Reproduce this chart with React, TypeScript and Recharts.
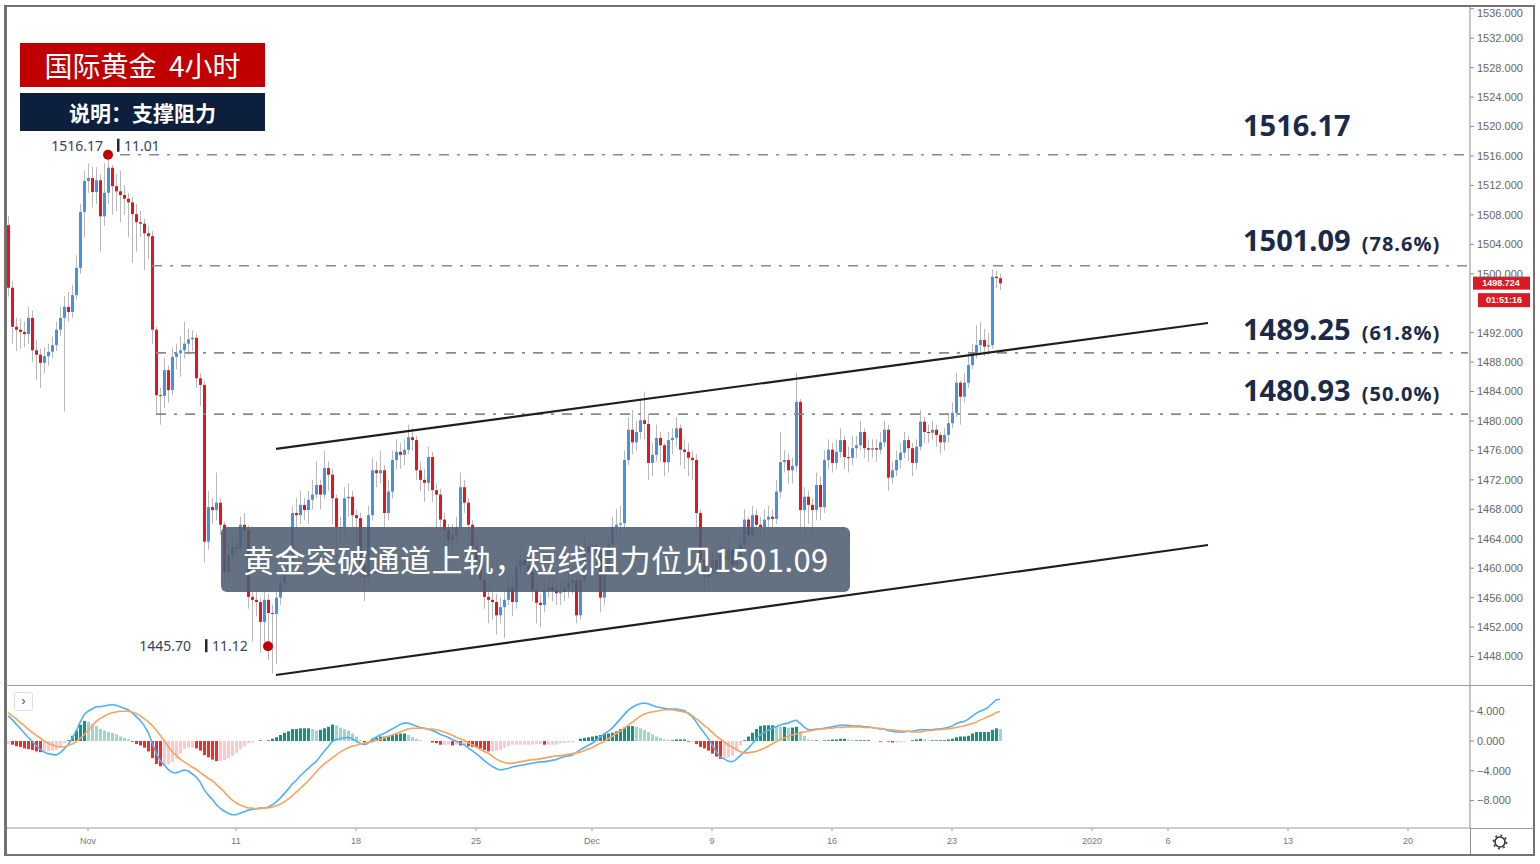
import React from 'react';
import { ComposedChart, Bar, Line, XAxis, YAxis, ReferenceLine, ReferenceDot, Cell } from 'recharts';

// ---- price data (4h gold candles, one per slot) ----
const firstOpen = 1506.6;

const closes = [
  1498.1, 1492.8, 1492.4, 1492.1, 1491.8, 1494.0, 1489.6, 1489.0, 1487.9, 1488.8,
  1489.4, 1490.3, 1492.4, 1494.0, 1495.5, 1494.8, 1497.1, 1500.8, 1508.4, 1512.6,
  1513.0, 1511.1, 1512.7, 1507.8, 1511.0, 1514.4, 1511.9, 1511.2, 1510.7, 1510.2,
  1509.7, 1508.1, 1507.0, 1506.8, 1505.5, 1505.1, 1492.4, 1483.5, 1483.4, 1486.9,
  1484.2, 1488.7, 1489.2, 1489.6, 1490.5, 1491.1, 1491.3, 1485.8, 1484.9, 1463.6,
  1468.3, 1467.9, 1468.9, 1465.9, 1459.5, 1461.8, 1462.9, 1462.7, 1465.9, 1465.2,
  1456.1, 1455.7, 1455.4, 1452.7, 1455.7, 1453.9, 1453.8, 1456.0, 1458.0, 1459.8,
  1461.1, 1467.5, 1467.2, 1468.6, 1467.9, 1469.3, 1470.0, 1471.3, 1470.0, 1473.6,
  1472.7, 1469.5, 1465.6, 1465.5, 1469.5, 1469.7, 1467.2, 1466.8, 1460.4, 1458.8,
  1467.2, 1473.3, 1472.9, 1473.3, 1467.5, 1470.4, 1474.7, 1475.8, 1475.4, 1476.1,
  1477.8, 1477.4, 1473.3, 1472.0, 1471.6, 1475.1, 1470.6, 1470.0, 1466.6, 1465.2,
  1463.8, 1464.5, 1465.6, 1471.0, 1468.9, 1465.9, 1462.9, 1461.1, 1458.4, 1456.1,
  1455.7, 1455.4, 1453.6, 1454.7, 1455.7, 1457.4, 1455.4, 1460.2, 1461.1, 1460.4,
  1459.5, 1457.0, 1455.3, 1455.0, 1457.0, 1457.4, 1457.0, 1456.6, 1456.8, 1457.3,
  1458.0, 1458.4, 1453.6, 1458.4, 1462.9, 1462.1, 1461.8, 1462.5, 1456.0, 1459.8,
  1463.2, 1465.6, 1465.9, 1466.1, 1474.7, 1478.8, 1477.1, 1478.5, 1480.1, 1479.6,
  1474.3, 1475.4, 1477.7, 1476.7, 1474.4, 1477.4, 1477.7, 1479.0, 1476.1, 1475.8,
  1475.0, 1474.7, 1467.5, 1461.1, 1458.8, 1459.5, 1461.1, 1459.8, 1461.8, 1461.1,
  1462.5, 1460.4, 1461.1, 1463.2, 1466.6, 1464.5, 1467.2, 1465.9, 1465.6, 1466.6,
  1467.0, 1466.7, 1470.4, 1474.4, 1474.7, 1473.3, 1473.9, 1482.6, 1467.9, 1469.7,
  1468.6, 1467.9, 1471.3, 1468.3, 1474.7, 1476.1, 1474.3, 1475.8, 1477.4, 1475.1,
  1475.0, 1476.3, 1476.7, 1478.5, 1476.3, 1476.1, 1476.3, 1476.1, 1477.1, 1478.8,
  1472.3, 1473.3, 1474.7, 1475.7, 1477.4, 1476.3, 1474.3, 1476.5, 1479.9, 1478.5,
  1478.4, 1478.8, 1478.1, 1477.1, 1478.1, 1479.7, 1481.1, 1485.2, 1483.3, 1485.2,
  1487.6, 1489.2, 1490.3, 1491.0, 1490.1, 1490.3, 1499.6, 1499.4, 1498.7,
];

const highs = [
  1507.8, 1499.0, 1494.0, 1493.8, 1493.5, 1495.5, 1495.0, 1491.0, 1489.8, 1490.0,
  1490.5, 1491.5, 1493.5, 1495.5, 1497.0, 1497.5, 1498.5, 1502.5, 1509.5, 1514.0,
  1515.0, 1514.5, 1514.5, 1513.5, 1515.0, 1516.17, 1514.8, 1513.5, 1514.0, 1512.0,
  1511.0, 1510.5, 1509.5, 1508.5, 1507.5, 1506.5, 1505.8, 1492.8, 1484.5, 1488.5,
  1487.5, 1490.0, 1490.5, 1491.5, 1493.5, 1492.5, 1492.3, 1491.8, 1486.5, 1485.5,
  1470.5, 1469.5, 1473.0, 1469.5, 1466.3, 1463.5, 1464.5, 1463.8, 1467.0, 1467.5,
  1465.8, 1457.0, 1456.8, 1456.0, 1456.8, 1456.5, 1455.0, 1457.0, 1459.0, 1461.0,
  1462.5, 1468.5, 1469.5, 1470.5, 1469.5, 1470.5, 1472.0, 1474.5, 1472.0, 1476.0,
  1474.5, 1473.5, 1470.0, 1467.0, 1471.0, 1471.5, 1470.5, 1468.0, 1467.5, 1461.0,
  1468.5, 1475.0, 1474.5, 1476.0, 1474.0, 1472.0, 1476.0, 1477.5, 1477.0, 1477.5,
  1479.5, 1479.0, 1478.0, 1474.5, 1473.5, 1476.5, 1475.8, 1471.5, 1470.8, 1467.5,
  1466.0, 1466.0, 1467.0, 1473.0, 1472.0, 1469.5, 1466.5, 1464.0, 1462.0, 1459.5,
  1457.5, 1457.0, 1456.5, 1456.0, 1457.0, 1459.0, 1458.5, 1461.5, 1463.0, 1462.5,
  1461.5, 1460.0, 1458.0, 1456.5, 1458.5, 1459.0, 1458.5, 1458.0, 1458.0, 1458.5,
  1459.5, 1460.0, 1459.0, 1459.5, 1464.5, 1463.5, 1463.5, 1464.0, 1463.0, 1461.0,
  1464.5, 1467.0, 1468.0, 1468.5, 1476.0, 1480.5, 1481.5, 1480.0, 1483.0, 1484.0,
  1481.0, 1477.0, 1479.5, 1478.5, 1477.0, 1478.5, 1479.0, 1480.5, 1479.5, 1477.5,
  1477.0, 1476.0, 1475.5, 1468.0, 1462.0, 1461.0, 1462.5, 1462.0, 1463.0, 1462.5,
  1464.0, 1463.0, 1462.5, 1464.5, 1468.0, 1467.0, 1468.5, 1468.0, 1467.0, 1468.0,
  1468.5, 1468.0, 1472.0, 1478.5, 1476.0, 1475.5, 1475.0, 1486.5, 1483.0, 1471.0,
  1470.5, 1469.5, 1473.0, 1472.5, 1476.0, 1477.5, 1477.0, 1477.5, 1479.0, 1478.0,
  1476.5, 1478.0, 1478.0, 1480.0, 1479.0, 1477.5, 1477.5, 1477.5, 1478.5, 1480.0,
  1479.5, 1474.5, 1476.0, 1477.0, 1478.5, 1478.0, 1477.0, 1477.5, 1481.5, 1480.5,
  1479.5, 1480.0, 1479.5, 1478.5, 1479.0, 1481.0, 1482.5, 1486.5, 1485.5, 1486.5,
  1488.8, 1490.5, 1493.0, 1493.5, 1492.5, 1492.0, 1500.6, 1500.4, 1500.0,
];

const lows = [
  1496.9, 1490.5, 1489.5, 1489.8, 1490.0, 1490.5, 1488.0, 1485.5, 1484.5, 1486.5,
  1487.5, 1488.5, 1489.5, 1491.5, 1481.3, 1493.5, 1494.0, 1496.5, 1500.0, 1505.0,
  1511.0, 1509.0, 1509.5, 1503.0, 1506.5, 1509.5, 1508.0, 1508.5, 1507.0, 1508.0,
  1505.0, 1501.5, 1503.0, 1505.0, 1500.5, 1502.0, 1490.5, 1481.0, 1479.5, 1481.8,
  1482.5, 1483.5, 1487.0, 1486.0, 1488.5, 1489.0, 1489.5, 1484.5, 1482.0, 1460.8,
  1462.5, 1466.0, 1466.5, 1464.5, 1458.0, 1458.5, 1460.5, 1460.8, 1462.0, 1463.5,
  1454.5, 1450.0, 1453.5, 1448.5, 1450.0, 1447.5, 1445.7, 1447.0, 1455.0, 1457.0,
  1458.5, 1460.0, 1465.5, 1466.0, 1466.5, 1466.0, 1468.0, 1469.5, 1468.0, 1469.5,
  1470.5, 1466.0, 1461.0, 1463.5, 1464.5, 1467.0, 1465.5, 1463.0, 1458.5, 1455.5,
  1458.0, 1466.5, 1471.0, 1471.5, 1465.0, 1466.5, 1469.5, 1473.5, 1473.5, 1474.0,
  1475.5, 1476.0, 1472.0, 1470.5, 1469.0, 1470.5, 1469.0, 1465.0, 1465.0, 1463.5,
  1461.5, 1462.5, 1463.5, 1465.0, 1467.5, 1464.5, 1461.5, 1459.5, 1457.0, 1454.5,
  1452.5, 1453.0, 1451.0, 1452.5, 1450.5, 1455.0, 1453.5, 1454.5, 1459.0, 1459.0,
  1458.0, 1455.5, 1452.5, 1452.0, 1454.0, 1456.0, 1455.5, 1455.0, 1455.0, 1455.5,
  1456.0, 1456.5, 1452.5, 1453.0, 1457.5, 1460.0, 1460.5, 1460.5, 1454.0, 1455.0,
  1459.0, 1462.5, 1464.5, 1464.5, 1465.5, 1474.0, 1475.5, 1476.0, 1477.5, 1477.5,
  1472.0, 1472.5, 1474.5, 1474.5, 1472.5, 1473.0, 1475.5, 1476.5, 1474.0, 1473.5,
  1472.5, 1472.0, 1465.0, 1459.0, 1457.0, 1457.5, 1458.5, 1458.5, 1459.0, 1459.5,
  1460.0, 1459.0, 1459.5, 1460.5, 1462.5, 1463.0, 1464.0, 1464.5, 1464.0, 1464.5,
  1465.5, 1465.0, 1466.0, 1469.5, 1473.0, 1471.5, 1471.5, 1473.0, 1465.0, 1464.5,
  1466.0, 1464.0, 1466.5, 1466.5, 1467.5, 1473.5, 1473.0, 1473.5, 1475.0, 1473.5,
  1473.0, 1474.0, 1475.0, 1476.0, 1475.0, 1474.5, 1475.0, 1474.5, 1475.5, 1476.5,
  1470.5, 1471.5, 1472.5, 1473.5, 1475.0, 1474.5, 1472.5, 1473.5, 1476.0, 1477.0,
  1477.0, 1477.5, 1476.5, 1475.5, 1476.0, 1477.0, 1479.0, 1480.5, 1479.5, 1482.5,
  1484.5, 1487.0, 1488.5, 1489.0, 1488.8, 1489.0, 1489.8, 1498.0, 1497.8,
];

// ---- MACD (12, 26, 9) ----
const macdLine = [
  3.4, 2.9, 2.3, 1.7, 1.1, 0.5, 0.0, -0.6, -1.1, -1.5,
  -1.7, -1.8, -1.9, -1.6, -1.1, -0.5, 0.3, 1.3, 2.5, 3.5,
  4.0, 4.3, 4.6, 4.6, 4.7, 4.8, 4.9, 4.8, 4.6, 4.4,
  4.2, 3.8, 3.3, 2.8, 2.1, 1.2, -0.2, -1.6, -2.6, -3.2,
  -3.8, -4.2, -4.3, -4.1, -3.9, -4.0, -4.4, -4.8, -5.5, -6.5,
  -7.2, -7.8, -8.5, -9.0, -9.4, -9.7, -9.9, -9.9, -9.7, -9.5,
  -9.3, -9.2, -9.1, -9.0, -9.0, -8.9, -8.6, -8.2, -7.7, -7.1,
  -6.5, -5.8, -5.3, -4.7, -4.2, -3.7, -3.2, -2.8, -2.1, -1.4,
  -0.8, -0.1, 0.2, 0.3, 0.4, 0.5, 0.3, 0.0, -0.3, -0.5,
  -0.3, 0.2, 0.5, 0.8, 1.0, 1.3, 1.6, 1.9, 2.2, 2.4,
  2.4, 2.2, 2.0, 1.8, 1.7, 1.6, 1.4, 1.2, 0.9, 0.7,
  0.5, 0.2, 0.0, -0.3, -0.5, -0.9, -1.3, -1.7, -2.1, -2.6,
  -3.0, -3.4, -3.7, -3.9, -3.8, -3.7, -3.5, -3.4, -3.3, -3.2,
  -3.1, -3.0, -2.9, -2.8, -2.8, -2.7, -2.6, -2.5, -2.3, -2.1,
  -2.0, -1.9, -1.6, -1.2, -0.9, -0.6, -0.3, 0.1, 0.5, 0.9,
  1.3, 1.7, 2.3, 2.9, 3.5, 4.1, 4.5, 4.8, 5.0, 5.1,
  5.0, 4.8, 4.6, 4.5, 4.4, 4.3, 4.3, 4.3, 4.2, 4.1,
  3.7, 3.3, 2.6, 1.8, 1.1, 0.4, -0.5, -1.4, -2.1, -2.4,
  -2.7, -2.8, -2.5, -2.0, -1.5, -1.0, -0.4, 0.2, 0.8, 1.1,
  1.4, 1.7, 1.9, 2.1, 2.3, 2.4, 2.6, 2.8, 2.4, 1.9,
  1.5, 1.5, 1.6, 1.6, 1.7, 1.8, 1.9, 2.0, 2.1, 2.1,
  2.1, 2.0, 2.0, 2.0, 1.9, 1.9, 1.8, 1.7, 1.6, 1.6,
  1.4, 1.3, 1.2, 1.2, 1.2, 1.3, 1.3, 1.4, 1.5, 1.5,
  1.5, 1.5, 1.6, 1.6, 1.7, 1.8, 2.0, 2.3, 2.5, 2.6,
  2.9, 3.3, 3.7, 4.0, 4.2, 4.5, 5.0, 5.5, 5.6,
];

const signalLine = [
  3.8, 3.4, 3.0, 2.5, 2.1, 1.6, 1.2, 0.8, 0.4, 0.0,
  -0.3, -0.5, -0.7, -0.8, -0.8, -0.6, -0.4, -0.1, 0.3, 0.8,
  1.4, 2.0, 2.6, 3.0, 3.3, 3.6, 3.8, 3.9, 4.0, 4.0,
  4.0, 3.9, 3.7, 3.4, 3.0, 2.6, 2.1, 1.5, 0.8, 0.1,
  -0.7, -1.4, -1.9, -2.4, -2.8, -3.1, -3.5, -3.8, -4.2, -4.6,
  -5.0, -5.3, -5.8, -6.3, -6.8, -7.4, -7.9, -8.3, -8.6, -8.8,
  -9.0, -9.0, -9.1, -9.1, -9.0, -9.0, -8.9, -8.7, -8.5, -8.2,
  -7.8, -7.4, -6.9, -6.4, -5.9, -5.4, -4.8, -4.2, -3.6, -3.1,
  -2.7, -2.3, -1.9, -1.5, -1.2, -0.9, -0.7, -0.6, -0.4, -0.3,
  -0.2, -0.1, 0.1, 0.2, 0.4, 0.6, 0.8, 1.0, 1.2, 1.4,
  1.6, 1.7, 1.7, 1.7, 1.7, 1.6, 1.6, 1.5, 1.4, 1.2,
  1.0, 0.8, 0.5, 0.3, 0.1, -0.2, -0.5, -0.8, -1.1, -1.4,
  -1.6, -2.0, -2.4, -2.7, -2.9, -3.0, -3.0, -2.9, -2.8, -2.7,
  -2.6, -2.5, -2.5, -2.4, -2.3, -2.2, -2.1, -2.0, -2.0, -1.9,
  -1.8, -1.7, -1.6, -1.5, -1.3, -1.1, -0.9, -0.6, -0.3, -0.1,
  0.3, 0.6, 1.0, 1.3, 1.7, 2.1, 2.5, 2.9, 3.3, 3.6,
  3.8, 3.9, 4.0, 4.1, 4.2, 4.2, 4.2, 4.1, 4.0, 3.9,
  3.8, 3.4, 3.0, 2.6, 2.1, 1.7, 1.2, 0.7, 0.3, -0.1,
  -0.5, -0.8, -1.1, -1.4, -1.6, -1.6, -1.5, -1.4, -1.2, -1.0,
  -0.7, -0.4, -0.1, 0.2, 0.4, 0.6, 0.8, 0.9, 1.1, 1.2,
  1.3, 1.4, 1.5, 1.6, 1.6, 1.7, 1.7, 1.8, 1.8, 1.8,
  1.9, 1.9, 1.9, 1.9, 1.8, 1.8, 1.8, 1.7, 1.7, 1.6,
  1.5, 1.5, 1.4, 1.4, 1.3, 1.3, 1.2, 1.2, 1.2, 1.3,
  1.4, 1.4, 1.5, 1.5, 1.6, 1.6, 1.7, 1.8, 1.9, 2.0,
  2.2, 2.3, 2.5, 2.8, 3.0, 3.3, 3.5, 3.8, 4.0,
];

// time axis: slot index -> label
const dateTicks = [20, 57, 87, 117, 146, 176, 206, 236, 271, 290, 320, 350];
const dateLabels = ['Nov', '11', '18', '25', 'Dec', '9', '16', '23', '2020', '6', '13', '20'];
const totalSlots = 366;

// 1496 sits under the live price tag, so it is not labelled
const priceTicks = [1448, 1452, 1456, 1460, 1464, 1468, 1472, 1476, 1480, 1484, 1488, 1492,
  1500, 1504, 1508, 1512, 1516, 1520, 1524, 1528, 1532, 1536];
const macdTicks = [4, 0, -4, -8];

// support / resistance levels
const levelValues = [1516.17, 1501.09, 1489.25, 1480.93];
const levelPcts = ['', '(78.6%)', '(61.8%)', '(50.0%)'];
const levelStart = [28, 36, 37, 37];

const channelUpper = [{ x: 67, y: 1476.2 }, { x: 300, y: 1493.31 }];
const channelLower = [{ x: 67, y: 1445.49 }, { x: 300, y: 1463.15 }];

const lastPrice = 1498.724;
const countdown = '01:51:16';

const PLOT_W = 1464;
const UP = '#4a8fe6';
const DOWN = '#e3151d';

const rows = Array.from({ length: totalSlots }, (_, i) => {
  if (i >= closes.length) return { i };
  const o = i === 0 ? firstOpen : closes[i - 1];
  return { i, o, c: closes[i], h: highs[i], l: lows[i], range: [lows[i], highs[i]] };
});

const macdRows = Array.from({ length: totalSlots }, (_, i) => {
  if (i >= macdLine.length) return { i };
  return { i, macd: macdLine[i], signal: signalLine[i], hist: +(macdLine[i] - signalLine[i]).toFixed(2) };
});

const histColor = (i: number) => {
  const h = (macdRows[i] as any).hist;
  const p = i > 0 ? (macdRows[i - 1] as any).hist : h;
  if (h >= 0) return h >= p ? '#0e9480' : '#9fd6cc';
  return h < p ? '#ec2f2d' : '#ffc6cc';
};

const Candle = (props: any) => {
  const { x, y, width, height, payload } = props;
  if (!payload || payload.h == null) return null;
  const { o, c, h, l } = payload;
  const top = Math.min(y, y + height);
  const span = Math.abs(height);
  const k = h - l > 0 ? span / (h - l) : 0;
  const cx = x + width / 2;
  const yo = top + (h - o) * k;
  const yc = top + (h - c) * k;
  const bTop = Math.min(yo, yc);
  const bH = Math.max(1, Math.abs(yo - yc));
  return (
    <g>
      <line x1={cx} x2={cx} y1={top} y2={top + span} stroke="#b9b9b9" strokeWidth={1} />
      <rect x={cx - 1.5} y={bTop} width={3} height={bH} fill={c >= o ? UP : DOWN} />
    </g>
  );
};

const centerOf = (vb: any) => ({ cx: vb.x + (vb.width || 0) / 2, cy: vb.y + (vb.height || 0) / 2 });

const LevelLabel = (props: any) => {
  const { cy, cx } = centerOf(props.viewBox);
  return (
    <text x={cx - 1} y={cy - props.lift} fontFamily="'Noto Sans', sans-serif" fontWeight={700} fill="#1b2a48">
      <tspan fontSize={29}>{props.text}</tspan>
      {props.pct ? <tspan fontSize={20} dx={11} letterSpacing={1}>{props.pct}</tspan> : null}
    </text>
  );
};

const PinLabel = (props: any) => {
  const { cx, cy } = centerOf(props.viewBox);
  const top = props.side === 'top';
  const base = top ? cy - 4 : cy + 5;
  const endX = top ? cx - 5 : cx - 77;
  const barX = top ? cx + 9 : cx - 63;
  return (
    <g fontFamily="'Noto Sans', sans-serif" fontSize={14} fill="#34435a">
      <text x={endX} y={base} textAnchor="end">{props.price}</text>
      <rect x={barX} y={base - 12} width={2.5} height={13} fill="#1c2a3c" />
      <text x={barX + 7} y={base}>{props.date}</text>
    </g>
  );
};

const PriceTag = (props: any) => {
  const { cy } = centerOf(props.viewBox);
  return (
    <g fontFamily="'Liberation Sans', Arial, sans-serif" fontSize={9} fontWeight={700} fill="#fff">
      <rect x={PLOT_W + 3} y={cy - 6.5} width={57} height={13} fill="#dc1a22" />
      <text x={PLOT_W + 31} y={cy + 3.2} textAnchor="middle">{lastPrice.toFixed(3)}</text>
      <rect x={PLOT_W + 8} y={cy + 10} width={52} height={14} fill="#dc1a22" />
      <text x={PLOT_W + 34} y={cy + 20.2} textAnchor="middle">{countdown}</text>
    </g>
  );
};

const axisTick = { fontSize: 11, fill: '#666', fontFamily: "'Liberation Sans', Arial, sans-serif" };

export default function App() {
  return (
    <div style={{ position: 'absolute', left: 0, top: 0, width: 1540, height: 864, background: '#fff', overflow: 'hidden' }}>
      {/* price pane */}
      <div style={{ position: 'absolute', left: 6, top: 7 }}>
        <ComposedChart width={1528} height={678} data={rows} margin={{ top: 0, right: 0, bottom: 0, left: 0 }}>
          <XAxis dataKey="i" type="category" hide />
          <YAxis
            orientation="right"
            width={64}
            type="number"
            domain={[1444.13, 1536.24]}
            allowDataOverflow
            ticks={priceTicks}
            tickFormatter={(v: number) => v.toFixed(3)}
            tick={axisTick}
            tickSize={4}
            tickMargin={3}
            stroke="#8c8c8c"
          />
          {levelValues.map((v, k) => (
            <ReferenceLine
              key={'lv' + k}
              segment={[{ x: levelStart[k], y: v }, { x: totalSlots - 1, y: v }]}
              stroke="#8a8a8a"
              strokeWidth={1.6}
              strokeDasharray="10 8 3 8"
            />
          ))}
          <ReferenceLine segment={channelUpper} stroke="#1e1e1e" strokeWidth={2.2} />
          <ReferenceLine segment={channelLower} stroke="#1e1e1e" strokeWidth={2.2} />
          <Bar dataKey="range" barSize={3} shape={<Candle />} isAnimationActive={false} />
          {levelValues.map((v, k) => (
            <ReferenceDot
              key={'ll' + k}
              x={309}
              y={v}
              r={0}
              fill="none"
              stroke="none"
              label={<LevelLabel text={v.toFixed(2)} pct={levelPcts[k]} lift={[19, 15, 13, 13][k]} />}
            />
          ))}
          <ReferenceDot x={25} y={1516.17} r={5} fill="#c00000" stroke="none"
            label={<PinLabel side="top" price="1516.17" date="11.01" />} />
          <ReferenceDot x={65} y={1449.4} r={5} fill="#c00000" stroke="none"
            label={<PinLabel side="bottom" price="1445.70" date="11.12" />} />
          <ReferenceDot x={closes.length - 1} y={lastPrice} r={0} fill="none" stroke="none" label={<PriceTag />} />
        </ComposedChart>
      </div>

      {/* MACD pane */}
      <div style={{ position: 'absolute', left: 6, top: 686 }}>
        <ComposedChart width={1528} height={166} data={macdRows} margin={{ top: 0, right: 0, bottom: 0, left: 0 }}>
          <XAxis
            dataKey="i"
            type="category"
            ticks={dateTicks}
            interval={0}
            tickFormatter={(v: number) => dateLabels[dateTicks.indexOf(v)]}
            height={24}
            tickSize={3}
            tickMargin={7}
            tick={{ fontSize: 9, fill: '#777', fontFamily: "'Liberation Sans', Arial, sans-serif" }}
            stroke="#9a9a9a"
          />
          <YAxis
            orientation="right"
            width={64}
            type="number"
            domain={[-11.68, 7.38]}
            allowDataOverflow
            ticks={macdTicks}
            tickFormatter={(v: number) => (v < 0 ? '\u2212' + Math.abs(v).toFixed(3) : v.toFixed(3))}
            tick={axisTick}
            tickSize={4}
            tickMargin={3}
            stroke="#8c8c8c"
          />
          <Bar dataKey="hist" barSize={3} isAnimationActive={false}>
            {macdRows.map((r, k) => (
              <Cell key={k} fill={k < macdLine.length ? histColor(k) : 'none'} />
            ))}
          </Bar>
          <Line dataKey="macd" stroke="#4fb0f6" strokeWidth={1.6} dot={false} isAnimationActive={false} />
          <Line dataKey="signal" stroke="#f9a35e" strokeWidth={1.6} dot={false} isAnimationActive={false} />
        </ComposedChart>
      </div>

      {/* frame */}
      <div style={{ position: 'absolute', left: 4, top: 5, width: 1531, height: 851, border: '2px solid #727272', borderLeftWidth: 3, boxSizing: 'border-box', pointerEvents: 'none' }} />
      <div style={{ position: 'absolute', left: 6, top: 685, width: 1528, height: 1, background: '#9a9a9a' }} />
      <div style={{ position: 'absolute', left: 1470, top: 828, width: 64, height: 1, background: '#9a9a9a' }} />
      <div style={{ position: 'absolute', left: 1470, top: 828, width: 1, height: 26, background: '#8c8c8c' }} />
      <svg style={{ position: 'absolute', left: 1492, top: 834 }} width={16} height={16}>
        <circle cx={8} cy={8} r={5} fill="none" stroke="#333" strokeWidth={1.6} />
        <circle cx={8} cy={8} r={6.6} fill="none" stroke="#333" strokeWidth={1.6} strokeDasharray="2 3.2" />
      </svg>
      <div style={{ position: 'absolute', left: 14, top: 692, width: 17, height: 17, border: '1px solid #dedede', borderRadius: 3, fontSize: 12, lineHeight: '16px', textAlign: 'center', color: '#444', fontFamily: 'Arial, sans-serif' }}>›</div>

      {/* title boxes */}
      <div style={{ position: 'absolute', left: 20, top: 43, width: 245, height: 44, background: '#c00000', color: '#fff', fontFamily: "'Noto Sans CJK SC', sans-serif", fontSize: 28, lineHeight: '44px', textAlign: 'center', whiteSpace: 'pre' }}>
        {'国际黄金  4小时'}
      </div>
      <div style={{ position: 'absolute', left: 20, top: 93, width: 245, height: 38, background: '#0c1f3d', color: '#fff', fontFamily: "'Noto Sans CJK SC', sans-serif", fontSize: 21, fontWeight: 700, lineHeight: '38px', textAlign: 'center' }}>
        说明：支撑阻力
      </div>

      {/* annotation */}
      <div style={{ position: 'absolute', left: 221, top: 527, width: 629, height: 65, background: 'rgba(78, 93, 113, 0.88)', borderRadius: 6, color: '#fff', fontFamily: "'Noto Sans CJK SC', sans-serif", fontSize: 31, letterSpacing: 0.4, lineHeight: '64px', paddingLeft: 22, boxSizing: 'border-box', whiteSpace: 'nowrap' }}>
        黄金突破通道上轨，短线阻力位见1501.09
      </div>
    </div>
  );
}
